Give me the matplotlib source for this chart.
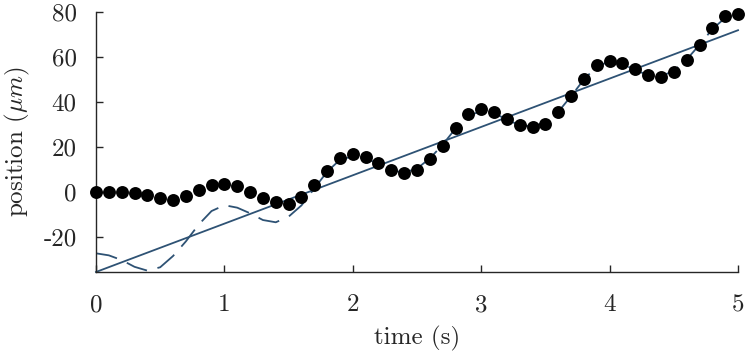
import matplotlib
matplotlib.use("Agg")
import matplotlib.pyplot as plt
import numpy as np

plt.rcParams['font.family'] = 'serif'
plt.rcParams['font.serif'] = ['cmr10']
plt.rcParams['mathtext.fontset'] = 'cm'
plt.rcParams['axes.unicode_minus'] = False

# measured positions, one every 0.1 s
t = np.round(np.arange(0, 5.01, 0.1), 2)
pos = [0, 0, 0, -0.3, -1.5, -2.8, -3.6, -1.7, 0.9, 3.1,
       3.6, 2.7, 0, -2.6, -4.6, -5.5, -2.1, 3.1, 9.5, 15.1,
       16.8, 15.6, 12.8, 9.8, 8.3, 9.9, 14.7, 20.4, 28.5, 34.7,
       36.7, 35.4, 32.6, 29.7, 29.0, 30.2, 35.4, 42.7, 50.2, 56.6,
       58.4, 57.2, 54.5, 51.9, 51.1, 53.5, 58.6, 65.3, 73.0, 78.2,
       78.9]

# fitted model (dashed)
fit = [-27.3, -28.2, -30.3, -33.3, -35.0, -33.5, -28.5, -22.0, -14.5, -8.5,
       -5.9, -7.0, -9.5, -12.5, -13.5, -11.0, -6.0, 1.5, 9.0, 14.3,
       15.8, 15.0, 12.4, 9.6, 8.6, 10.4, 14.9, 21.0, 28.2, 33.8,
       36.0, 35.0, 32.2, 29.6, 29.2, 30.8, 35.6, 42.6, 50.0, 55.8,
       58.0, 56.9, 54.2, 51.9, 51.4, 53.9, 58.9, 65.4, 72.4, 77.4,
       78.6]

# linear trend
trend_t = [0, 5]
trend = [-35.6, 71.9]

line_col = '#2e5274'

fig = plt.figure(figsize=(7.47, 3.53), dpi=100)
ax = fig.add_axes([0.1285, 0.2295, 0.8595, 0.7365])

ax.plot(t, fit, color=line_col, lw=1.3, ls=(0, (12, 6)), zorder=2)
ax.plot(trend_t, trend, color=line_col, lw=1.3, zorder=2, clip_on=False)
ax.plot(t, pos, 'o', color='black', ms=9.3, mec='none', zorder=3, clip_on=False)

ax.set_xlim(0, 5)
ax.set_ylim(-35.6, 80)
ax.set_xticks([0, 1, 2, 3, 4, 5])
ax.set_xticklabels(['0', '1', '2', '3', '4', '5'])
ax.set_yticks([-20, 0, 20, 40, 60, 80])
ax.set_yticklabels(['-20', '0', '20', '40', '60', '80'])

for s in ['top', 'right']:
    ax.spines[s].set_visible(False)
for s in ['left', 'bottom']:
    ax.spines[s].set_linewidth(1.0)
    ax.spines[s].set_color('#262626')

ax.tick_params(direction='in', length=5, width=1.0, color='#262626',
               labelsize=18, pad=14, labelcolor='#262626')
ax.tick_params(axis='x', pad=16)

ax.set_xlabel('time (s)', fontsize=18, labelpad=7, color='#262626')
ax.set_ylabel(r'position ($\mu m$)', fontsize=18, labelpad=8, color='#262626')

fig.savefig('out.png', dpi=100)
